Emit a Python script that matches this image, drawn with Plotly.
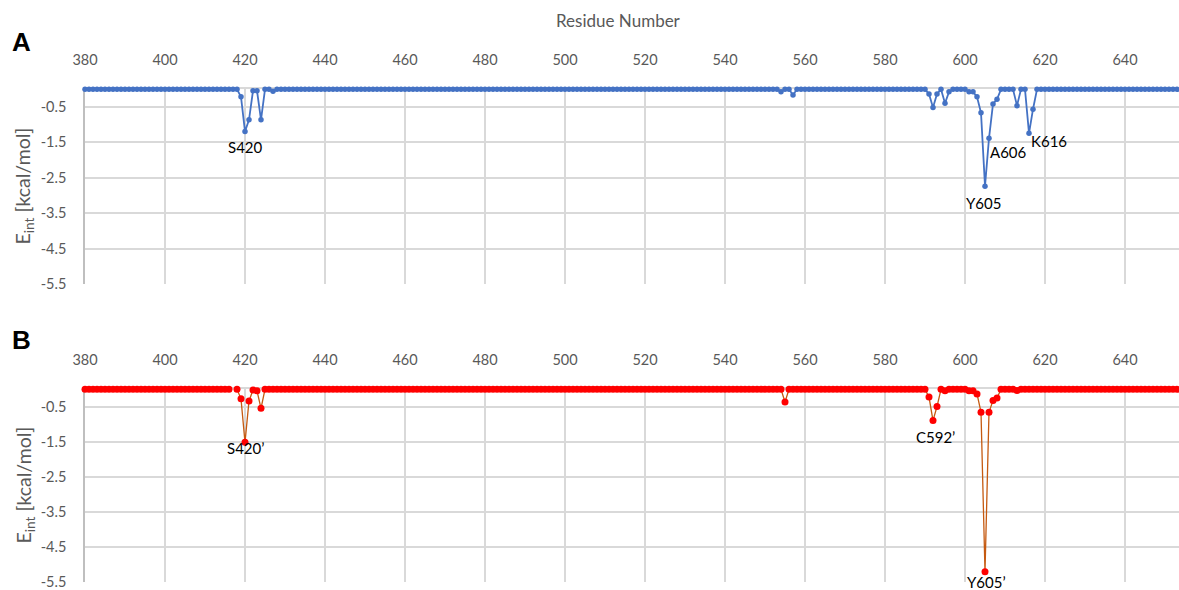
import plotly.graph_objects as go

# ---------------- data ----------------
residues = list(range(380, 654))

# Panel A: most residues sit at a near-zero baseline; listed residues deviate
baseline_a = -0.01
dip_res_a = [419, 420, 421, 422, 423, 424, 427, 554, 557,
             591, 592, 593, 595, 596, 601, 602, 603, 604, 605, 606, 607, 608,
             613, 616, 617]
dip_val_a = [-0.22, -1.20, -0.87, -0.05, -0.05, -0.87, -0.06, -0.08, -0.17,
             -0.14, -0.52, -0.14, -0.40, -0.08, -0.08, -0.08, -0.22, -0.67, -2.74, -1.39, -0.42, -0.29,
             -0.47, -1.25, -0.57]

# Panel B
baseline_b = -0.01
dip_res_b = [417, 419, 420, 421, 422, 423, 424, 555,
             591, 592, 593, 595, 601, 602, 603, 604, 605, 606, 607, 608, 613]
dip_val_b = [0.03, -0.28, -1.52, -0.34, -0.03, -0.05, -0.55, -0.37,
             -0.23, -0.90, -0.50, -0.05, -0.05, -0.05, -0.14, -0.66, -5.21, -0.66, -0.33, -0.26, -0.04]

labels_a = ["S420", "A606", "Y605", "K616"]
labels_a_x = [420, 610.9, 604.6, 621.0]
labels_a_y = [-1.64, -1.77, -3.21, -1.47]

labels_b = ["S420\u2019", "C592\u2019", "Y605\u2019"]
labels_b_x = [420, 592.5, 605.4]
labels_b_y = [-1.68, -1.36, -5.49]

x_ticks = list(range(380, 641, 20))
y_ticks = [-0.5, -1.5, -2.5, -3.5, -4.5, -5.5]

# ---------------- build series ----------------
def series(base, dres, dval):
    m = dict(zip(dres, dval))
    return [m.get(r, base) for r in residues]

energy_a = series(baseline_a, dip_res_a, dip_val_a)
energy_b = series(baseline_b, dip_res_b, dip_val_b)

W, H = 1179, 590
L = 85
GRID = "#D9D9D9"
AXIS = "#BFBFBF"
TXT = "#595959"
FONT = "Lato, Open Sans, sans-serif"

fig = go.Figure()
fig.add_trace(go.Scatter(x=residues, y=energy_a, mode="lines+markers",
                         line=dict(color="#4472C4", width=1.8),
                         marker=dict(color="#4472C4", size=5.5),
                         cliponaxis=False, xaxis="x", yaxis="y", showlegend=False))
fig.add_trace(go.Scatter(x=residues, y=energy_b, mode="lines+markers",
                         line=dict(color="#C55A11", width=1.3),
                         marker=dict(color="#FF0000", size=7),
                         cliponaxis=False, xaxis="x2", yaxis="y2", showlegend=False))

def xax(anchor):
    return dict(domain=[0, 1], range=[380, 653.5], side="top", anchor=anchor,
                tickvals=x_ticks, showgrid=True, gridcolor=GRID, gridwidth=1.6,
                showline=True, linecolor=GRID, linewidth=1.6, layer="below traces",
                ticks="outside", ticklen=16, tickcolor="rgba(0,0,0,0)",
                tickfont=dict(size=14.5, color=TXT, family=FONT), zeroline=False,
                automargin=False, ticklabeloverflow="allow")

def yax(domain, anchor):
    return dict(domain=domain, range=[-5.5, 0], anchor=anchor,
                tickvals=y_ticks, ticktext=[str(v) for v in y_ticks],
                showgrid=True, gridcolor=GRID, gridwidth=1.6,
                showline=True, linecolor=AXIS, linewidth=1.6,
                zeroline=False, layer="below traces",
                ticks="outside", ticklen=14, tickcolor="rgba(0,0,0,0)",
                tickfont=dict(size=14.5, color=TXT, family=FONT),
                automargin=False, ticklabeloverflow="allow")

dA = [1 - 284 / H, 1 - 89 / H]
dB = [1 - 582 / H, 1 - 389 / H]

ann = []
for t, x, y in zip(labels_a, labels_a_x, labels_a_y):
    ann.append(dict(text=t, x=x, y=y, xref="x", yref="y", showarrow=False,
                    xanchor="center", yanchor="middle",
                    font=dict(size=15, color="black", family=FONT)))
for t, x, y in zip(labels_b, labels_b_x, labels_b_y):
    ann.append(dict(text=t, x=x, y=y, xref="x2", yref="y2", showarrow=False,
                    xanchor="center", yanchor="middle",
                    font=dict(size=15, color="black", family=FONT)))

pw = W - L
ann.append(dict(text="Residue Number", x=(618 - L) / pw, y=1 - 20 / H, xref="paper", yref="paper",
                xanchor="center", yanchor="middle",
                showarrow=False, font=dict(size=17, color=TXT, family=FONT)))
for letter, yc in [("A", 42), ("B", 340)]:
    ann.append(dict(text="<b>%s</b>" % letter, x=(21 - L) / pw, y=1 - yc / H, xref="paper", yref="paper",
                    xanchor="center", yanchor="middle",
                    showarrow=False, font=dict(size=26, color="black", family="Liberation Sans, Arial")))
for yc in [(89 + 284) / 2, (389 + 582) / 2]:
    ann.append(dict(text="E<sub>int</sub> [kcal/mol]", x=(24 - L) / pw, y=1 - yc / H,
                    xref="paper", yref="paper", showarrow=False, textangle=-90,
                    xanchor="center", yanchor="middle",
                    font=dict(size=19.5, color=TXT, family=FONT)))

fig.update_layout(
    width=W, height=H,
    margin=dict(l=L, r=0, t=0, b=0),
    paper_bgcolor="white", plot_bgcolor="white",
    xaxis=xax("y"), yaxis=yax(dA, "x"),
    xaxis2=xax("y2"), yaxis2=yax(dB, "x2"),
    annotations=ann,
)

fig.write_html("out.html", config={"displayModeBar": False},
               post_script="document.body.style.margin='0';document.body.style.overflow='hidden';")
